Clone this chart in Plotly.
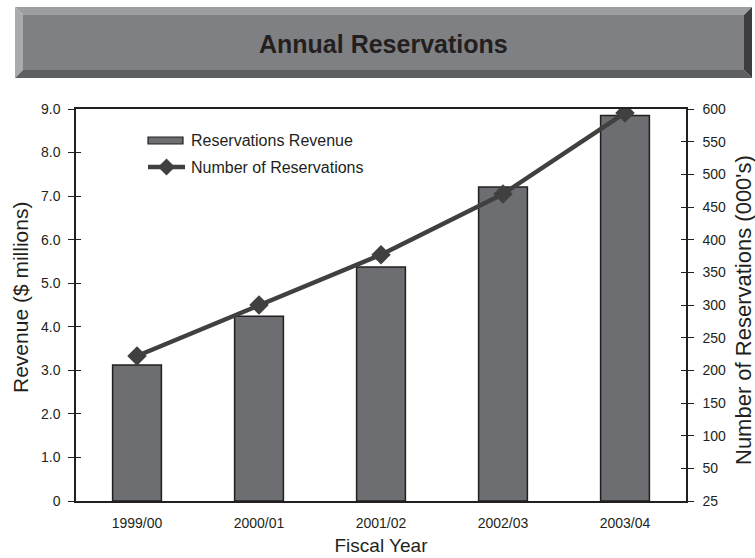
import plotly.graph_objects as go

categories = ["1999/00", "2000/01", "2001/02", "2002/03", "2003/04"]
revenue = [3.12, 4.24, 5.37, 7.21, 8.85]
reservations = [222, 300, 377, 470, 594]
left_tickvals = [0, 1, 2, 3, 4, 5, 6, 7, 8, 9]
left_ticktext = ["0", "1.0", "2.0", "3.0", "4.0", "5.0", "6.0", "7.0", "8.0", "9.0"]
right_tickvals = [0, 50, 100, 150, 200, 250, 300, 350, 400, 450, 500, 550, 600]
right_ticktext = ["25", "50", "100", "150", "200", "250", "300", "350", "400", "450", "500", "550", "600"]

W, H = 755, 558
L, R, T, B = 76, 686, 109, 501  # plot area in pixels

def px(x):
    return (x - L) / (R - L)

def py(y):
    return (B - y) / (B - T)

FONT = "Liberation Sans, Arial, sans-serif"
TXT = "#231f20"
BARC = "#6d6e71"
LINEC = "#404041"

fig = go.Figure()
fig.add_trace(go.Bar(
    x=categories, y=revenue, name="Reservations Revenue",
    marker=dict(color=BARC, line=dict(color=TXT, width=1.5)),
    yaxis="y", showlegend=False,
))
fig.add_trace(go.Scatter(
    x=categories, y=reservations, name="Number of Reservations",
    mode="lines+markers",
    line=dict(color=LINEC, width=4.5),
    marker=dict(symbol="diamond", size=15, color=LINEC),
    yaxis="y2", showlegend=False,
))

# title box with bevel (pixel coords)
x0, x1, y0, y1, bv = 15, 752, 7, 78, 8
shapes = []
def poly(pts, color, lw=0, lc=None):
    path = "M " + " L ".join(f"{px(a)},{py(b)}" for a, b in pts) + " Z"
    shapes.append(dict(type="path", path=path, xref="paper", yref="paper",
                       fillcolor=color, line=dict(width=lw, color=lc), layer="above"))
poly([(x0, y0), (x1, y0), (x1 - bv, y0 + bv), (x0 + bv, y0 + bv)], "#9d9ea1")  # top
poly([(x0, y0), (x0 + bv, y0 + bv), (x0 + bv, y1 - bv), (x0, y1)], "#a9aaad")  # left
poly([(x0, y1), (x0 + bv, y1 - bv), (x1 - bv, y1 - bv), (x1, y1)], "#5e5f61")  # bottom
poly([(x1, y0), (x1, y1), (x1 - bv, y1 - bv), (x1 - bv, y0 + bv)], "#3d3d3f")  # right
poly([(x0 + bv, y0 + bv), (x1 - bv, y0 + bv), (x1 - bv, y1 - bv), (x0 + bv, y1 - bv)], "#7f8083")

# custom legend
poly([(148, 137), (183, 137), (183, 144), (148, 144)], BARC, 1.2, TXT)
shapes.append(dict(type="line", xref="paper", yref="paper", x0=px(148), x1=px(185),
                   y0=py(167), y1=py(167), line=dict(color=LINEC, width=4.5)))
poly([(166.5, 158.5), (175, 167), (166.5, 175.5), (158, 167)], LINEC)

annotations = [
    dict(text="<b>Annual Reservations</b>", x=px((x0 + x1) / 2), y=py(44), xref="paper", yref="paper",
         showarrow=False, font=dict(size=25, color=TXT),
         xanchor="center", yanchor="middle"),
    dict(text="Reservations Revenue", x=px(189), y=py(140.5), xref="paper", yref="paper",
         showarrow=False, font=dict(size=16, color=TXT), xanchor="left", yanchor="middle"),
    dict(text="Number of Reservations", x=px(189), y=py(167), xref="paper", yref="paper",
         showarrow=False, font=dict(size=16, color=TXT), xanchor="left", yanchor="middle"),
    dict(text="Revenue ($ millions)", x=px(20), y=py(298), xref="paper", yref="paper",
         showarrow=False, textangle=-90, font=dict(size=21, color=TXT),
         xanchor="center", yanchor="middle"),
    dict(text="Number of Reservations (000's)", x=px(743), y=py(310), xref="paper", yref="paper",
         showarrow=False, textangle=-90, font=dict(size=22, color=TXT),
         xanchor="center", yanchor="middle"),
]

fig.update_layout(
    width=W, height=H,
    margin=dict(l=L, r=W - R, t=T, b=H - B, autoexpand=False),
    paper_bgcolor="white", plot_bgcolor="white",
    font=dict(family=FONT, size=14, color=TXT),
    bargap=0.6,
    showlegend=False,
    xaxis=dict(showline=True, linecolor=TXT, linewidth=1.5, mirror=True,
               ticks="", tickfont=dict(size=14), ticklabelstandoff=8,
               title=dict(text="Fiscal Year", font=dict(size=19), standoff=9)),
    yaxis=dict(range=[0, 9], tickvals=left_tickvals, ticktext=left_ticktext,
               showgrid=False, zeroline=False, showline=True, linecolor=TXT, linewidth=1.5,
               ticks="outside", ticklen=6, tickcolor=TXT, tickwidth=1.2,
               tickfont=dict(size=14), ticklabelstandoff=5),
    yaxis2=dict(range=[0, 600], tickvals=right_tickvals, ticktext=right_ticktext,
                overlaying="y", side="right", showgrid=False, zeroline=False,
                showline=True, linecolor=TXT, linewidth=1.5,
                ticks="outside", ticklen=6, tickcolor=TXT, tickwidth=1.2,
                tickfont=dict(size=14), ticklabelstandoff=6),
    yaxis3=dict(range=[0, 9], tickvals=left_tickvals, overlaying="y", side="left",
                showgrid=False, zeroline=False, showline=False, showticklabels=False,
                ticks="inside", ticklen=5, tickcolor=TXT, tickwidth=1.2),
    yaxis4=dict(range=[0, 600], tickvals=right_tickvals, overlaying="y", side="right",
                showgrid=False, zeroline=False, showline=False, showticklabels=False,
                ticks="inside", ticklen=5, tickcolor=TXT, tickwidth=1.2),
    shapes=shapes,
    annotations=annotations,
)
fig.add_trace(go.Scatter(x=categories, y=revenue, yaxis="y3", mode="none", showlegend=False, hoverinfo="skip"))
fig.add_trace(go.Scatter(x=categories, y=reservations, yaxis="y4", mode="none", showlegend=False, hoverinfo="skip"))

fig.write_html(
    "out.html",
    config={"displayModeBar": False},
    post_script="document.body.style.margin='0';document.body.style.overflow='hidden';",
)
